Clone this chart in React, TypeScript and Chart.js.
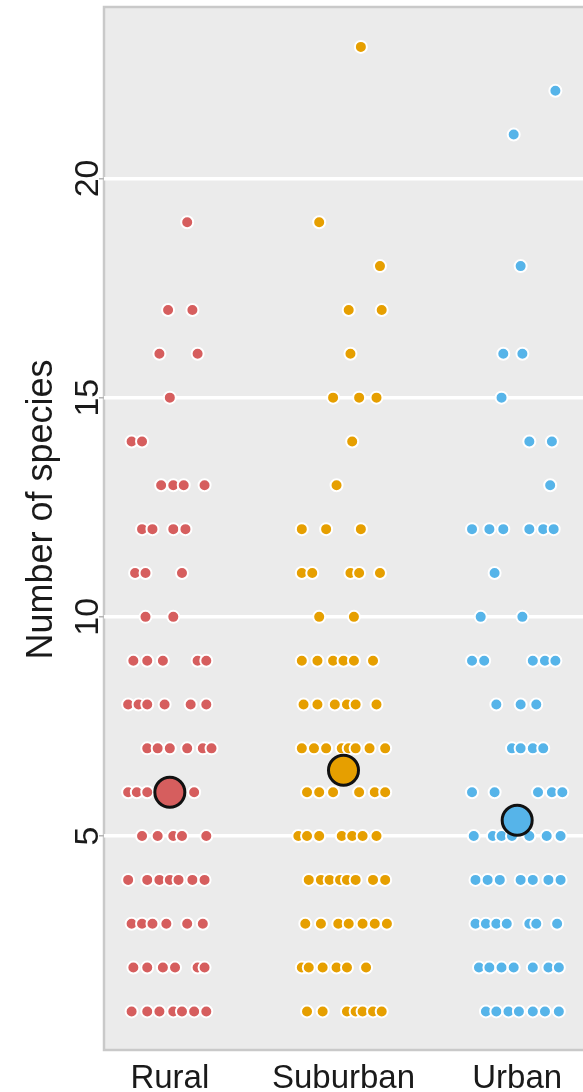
import React, { useEffect, useRef } from "react";
import { Chart, registerables } from "chart.js";

Chart.register(...registerables);

// ---------- data ----------
const categories = ["Rural", "Suburban", "Urban"];
const yTickValues = [5, 10, 15, 20];
const yAxisTitle = "Number of species";
const groupColors = ["#D65E5E", "#E69F00", "#56B4E9"];
const groupMeans = [6.0, 6.5, 5.36];

// [species count, horizontal jitter offsets (category units)]
const ruralRows: [number, number[]][] = [
  [19, [0.1]],
  [17, [-0.01, 0.13]],
  [16, [-0.06, 0.16]],
  [15, [0.0]],
  [14, [-0.22, -0.16]],
  [13, [-0.05, 0.02, 0.08, 0.2]],
  [12, [-0.16, -0.1, 0.02, 0.09]],
  [11, [-0.2, -0.14, 0.07]],
  [10, [-0.14, 0.02]],
  [9, [-0.21, -0.13, -0.04, 0.16, 0.21]],
  [8, [-0.24, -0.18, -0.13, -0.03, 0.12, 0.21]],
  [7, [-0.13, -0.07, 0.0, 0.1, 0.19, 0.24]],
  [6, [-0.24, -0.19, -0.13, 0.03, 0.14]],
  [5, [-0.16, -0.07, 0.02, 0.07, 0.21]],
  [4, [-0.24, -0.13, -0.06, 0.0, 0.05, 0.13, 0.2]],
  [3, [-0.22, -0.16, -0.1, -0.02, 0.1, 0.19]],
  [2, [-0.21, -0.13, -0.04, 0.03, 0.16, 0.2]],
  [1, [-0.22, -0.13, -0.06, 0.02, 0.07, 0.14, 0.21]],
];

const suburbanRows: [number, number[]][] = [
  [23, [0.1]],
  [19, [-0.14]],
  [18, [0.21]],
  [17, [0.03, 0.22]],
  [16, [0.04]],
  [15, [-0.06, 0.09, 0.19]],
  [14, [0.05]],
  [13, [-0.04]],
  [12, [-0.24, -0.1, 0.1]],
  [11, [-0.24, -0.18, 0.04, 0.09, 0.21]],
  [10, [-0.14, 0.06]],
  [9, [-0.24, -0.15, -0.06, 0.0, 0.06, 0.17]],
  [8, [-0.23, -0.15, -0.05, 0.02, 0.07, 0.19]],
  [7, [-0.24, -0.17, -0.1, -0.01, 0.03, 0.07, 0.15, 0.24]],
  [6, [-0.21, -0.14, -0.06, 0.09, 0.18, 0.24]],
  [5, [-0.26, -0.21, -0.14, -0.01, 0.05, 0.11, 0.19]],
  [4, [-0.2, -0.13, -0.08, -0.02, 0.02, 0.07, 0.17, 0.24]],
  [3, [-0.22, -0.13, -0.03, 0.03, 0.11, 0.18, 0.25]],
  [2, [-0.24, -0.2, -0.12, -0.04, 0.02, 0.13]],
  [1, [-0.21, -0.12, 0.02, 0.07, 0.11, 0.17, 0.22]],
];

const urbanRows: [number, number[]][] = [
  [22, [0.22]],
  [21, [-0.02]],
  [18, [0.02]],
  [16, [-0.08, 0.03]],
  [15, [-0.09]],
  [14, [0.07, 0.2]],
  [13, [0.19]],
  [12, [-0.26, -0.16, -0.08, 0.07, 0.15, 0.21]],
  [11, [-0.13]],
  [10, [-0.21, 0.03]],
  [9, [-0.26, -0.19, 0.09, 0.16, 0.22]],
  [8, [-0.12, 0.02, 0.11]],
  [7, [-0.03, 0.02, 0.09, 0.15]],
  [6, [-0.26, -0.13, 0.12, 0.2, 0.26]],
  [5, [-0.25, -0.14, -0.09, -0.03, 0.07, 0.17, 0.25]],
  [4, [-0.24, -0.17, -0.1, 0.02, 0.09, 0.18, 0.25]],
  [3, [-0.24, -0.18, -0.12, -0.06, 0.07, 0.11, 0.23]],
  [2, [-0.22, -0.16, -0.09, -0.02, 0.09, 0.18, 0.24]],
  [1, [-0.18, -0.12, -0.05, 0.01, 0.09, 0.16, 0.24]],
];

const groupRows = [ruralRows, suburbanRows, urbanRows];

// ---------- helpers ----------
const FONT = "'Liberation Sans', Arial, Helvetica, sans-serif";

function rowsToPoints(rows: [number, number[]][], catPos: number) {
  const pts: { x: number; y: number }[] = [];
  rows.forEach(([y, offs]) => {
    offs.forEach((o) => pts.push({ x: catPos + o, y }));
  });
  return pts;
}

const panelPlugin = {
  id: "panelPlugin",
  beforeDraw(chart: any) {
    const { ctx, chartArea } = chart;
    ctx.save();
    ctx.fillStyle = "#ffffff";
    ctx.fillRect(0, 0, chart.width, chart.height);
    ctx.fillStyle = "#EBEBEB";
    ctx.fillRect(
      chartArea.left,
      chartArea.top,
      chartArea.right - chartArea.left,
      chartArea.bottom - chartArea.top
    );
    ctx.strokeStyle = "#C9C9C9";
    ctx.lineWidth = 2.5;
    ctx.strokeRect(
      chartArea.left,
      chartArea.top,
      chartArea.right - chartArea.left + 4,
      chartArea.bottom - chartArea.top
    );
    ctx.restore();
  },
  afterDraw(chart: any) {
    const { ctx, chartArea } = chart;
    const xs = chart.scales.x;
    const ys = chart.scales.y;
    ctx.save();
    ctx.fillStyle = "#1a1a1a";
    // y tick labels (rotated)
    ctx.font = `34px ${FONT}`;
    ctx.textAlign = "center";
    ctx.textBaseline = "alphabetic";
    yTickValues.forEach((v) => {
      const py = ys.getPixelForValue(v);
      ctx.save();
      ctx.translate(chartArea.left - 6, py);
      ctx.rotate(-Math.PI / 2);
      ctx.fillText(String(v), 0, 0);
      ctx.restore();
    });
    // y axis title
    ctx.font = `36px ${FONT}`;
    ctx.save();
    ctx.translate(chartArea.left - 52, (chartArea.top + chartArea.bottom) / 2 - 19);
    ctx.rotate(-Math.PI / 2);
    ctx.fillText(yAxisTitle, 0, 0);
    ctx.restore();
    // x labels
    ctx.font = `33px ${FONT}`;
    categories.forEach((c, i) => {
      const px = xs.getPixelForValue(i + 1);
      ctx.fillText(c, px, chartArea.bottom + 38);
    });
    ctx.restore();
  },
};

export default function App() {
  const canvasRef = useRef<HTMLCanvasElement | null>(null);

  useEffect(() => {
    if (!canvasRef.current) return;

    const pointDatasets = groupRows.map((rows, i) => ({
      label: categories[i],
      data: rowsToPoints(rows, i + 1),
      backgroundColor: groupColors[i],
      borderColor: "#ffffff",
      borderWidth: 2,
      pointRadius: 6,
      pointHoverRadius: 6,
      order: 1,
    }));

    const meanDataset = {
      label: "Mean",
      data: groupMeans.map((m, i) => ({ x: i + 1, y: m })),
      backgroundColor: groupColors,
      borderColor: "#111111",
      borderWidth: 3,
      pointRadius: 15,
      pointHoverRadius: 15,
      order: 0,
    };

    const chart = new Chart(canvasRef.current, {
      type: "scatter",
      data: { datasets: [meanDataset, ...pointDatasets] as any },
      options: {
        animation: false,
        responsive: false,
        devicePixelRatio: 1,
        layout: { autoPadding: false, padding: { top: 7, left: 0, right: 0, bottom: 0 } },
        plugins: {
          legend: { display: false },
          tooltip: { enabled: false },
        },
        scales: {
          x: {
            type: "linear",
            min: 0.621,
            max: 3.379,
            grid: { display: false },
            border: { display: false },
            ticks: { display: false },
            afterFit: (s: any) => {
              s.height = 42;
            },
          },
          y: {
            type: "linear",
            min: 0.12,
            max: 23.91,
            afterBuildTicks: (s: any) => {
              s.ticks = yTickValues.map((v) => ({ value: v }));
            },
            grid: {
              color: "#ffffff",
              lineWidth: 3.5,
              drawTicks: true,
              tickLength: 5,
              tickColor: "#B5B5B5",
              tickWidth: 1.5,
            },
            border: { display: false },
            ticks: { display: false },
            afterFit: (s: any) => {
              s.width = 104;
            },
          },
        },
      } as any,
      plugins: [panelPlugin],
    });

    return () => chart.destroy();
  }, []);

  return (
    <div style={{ position: "absolute", left: 0, top: 0, width: 583, height: 1092 }}>
      <canvas ref={canvasRef} width={583} height={1092} />
    </div>
  );
}
